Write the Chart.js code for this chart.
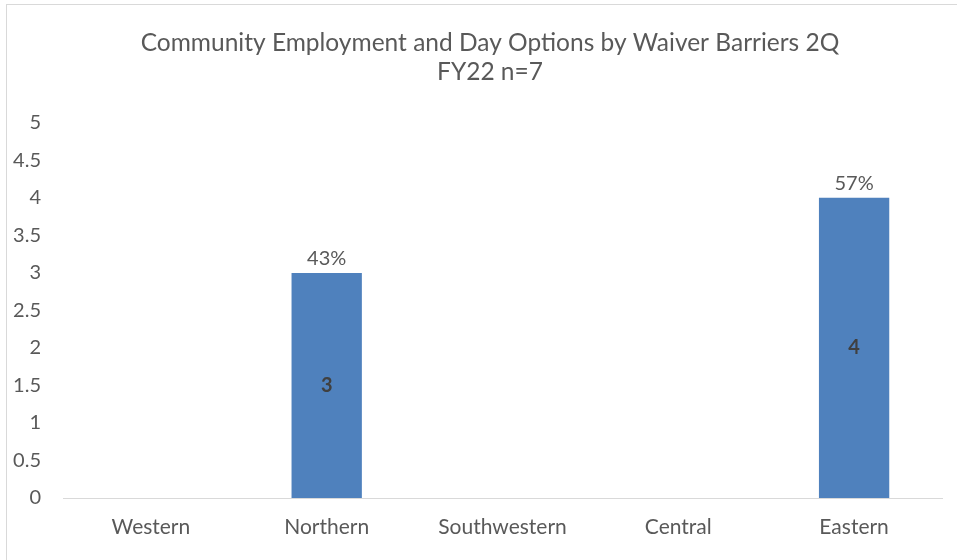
<!DOCTYPE html>
<html>
<head>
<meta charset="utf-8">
<script src="https://cdn.jsdelivr.net/npm/chart.js@4.4.0/dist/chart.umd.min.js"></script>
<style>
  html, body { margin: 0; padding: 0; background: #fff; }
  #wrap { position: relative; width: 957px; height: 560px; overflow: hidden; }
  #frame { position: absolute; left: 6px; top: 4px; width: 970px; height: 570px; border: 1px solid #d9d9d9; box-sizing: border-box; }
  #grafico { position: absolute; left: 0; top: 0; }
</style>
</head>
<body>
<div id="wrap">
  <div id="frame"></div>
  <canvas id="grafico" width="957" height="560"></canvas>
</div>
<script>
const regioes = ["Western", "Northern", "Southwestern", "Central", "Eastern"];
const contagens = [0, 3, 0, 0, 4];
const percentuais = ["", "43%", "", "", "57%"];
const titulo = ["Community Employment and Day Options by Waiver Barriers 2Q", "FY22 n=7"];

const fonte = "Lato, 'Open Sans', sans-serif";
const corTexto = "#595959";

// rotulos: percentual acima da barra, contagem no meio
const rotulos = {
  id: "rotulos",
  afterDatasetsDraw(chart) {
    const ctx = chart.ctx;
    const meta = chart.getDatasetMeta(0);
    ctx.save();
    ctx.textAlign = "center";
    meta.data.forEach((bar, i) => {
      if (!contagens[i]) return;
      ctx.fillStyle = corTexto;
      ctx.font = "20px " + fonte;
      ctx.textBaseline = "bottom";
      ctx.fillText(percentuais[i], bar.x, bar.y - 4);
      ctx.fillStyle = "#404040";
      ctx.font = "bold 20px " + fonte;
      ctx.textBaseline = "middle";
      ctx.fillText(String(contagens[i]), bar.x, (bar.y + bar.base) / 2);
    });
    ctx.restore();
  }
};

new Chart(document.getElementById("grafico"), {
  type: "bar",
  data: {
    labels: regioes,
    datasets: [{
      data: contagens,
      backgroundColor: "#4f81bd",
      categoryPercentage: 1,
      barPercentage: 0.4
    }]
  },
  options: {
    responsive: false,
    animation: false,
    layout: { padding: { left: 38, right: 15, top: 0, bottom: 0 } },
    plugins: {
      legend: { display: false },
      tooltip: { enabled: false },
      title: {
        display: true,
        text: titulo,
        color: corTexto,
        font: { family: fonte, size: 24.5, weight: "normal", lineHeight: 1.2 },
        padding: { top: 28, bottom: 36 }
      }
    },
    scales: {
      x: {
        grid: { display: false, drawTicks: false },
        border: { display: true, color: "#d9d9d9", width: 1 },
        ticks: { color: corTexto, font: { family: fonte, size: 21 }, padding: 17 },
        afterFit(s) { s.height = 62; }
      },
      y: {
        min: 0,
        max: 5,
        grid: { display: false, drawTicks: false },
        border: { display: false },
        // mirror evita o recorte dos rotulos na margem esquerda
        ticks: {
          stepSize: 0.5, color: corTexto, font: { family: fonte, size: 20 },
          mirror: true, crossAlign: "far", padding: 0,
          callback: v => String(v)
        },
        afterFit(s) { s.width = 25; },
        afterUpdate(s) {
          const largura = s._getLabelSizes().widest.width;
          s.options.ticks.padding = -22 - largura;
        }
      }
    }
  },
  plugins: [rotulos]
});
</script>
</body>
</html>
